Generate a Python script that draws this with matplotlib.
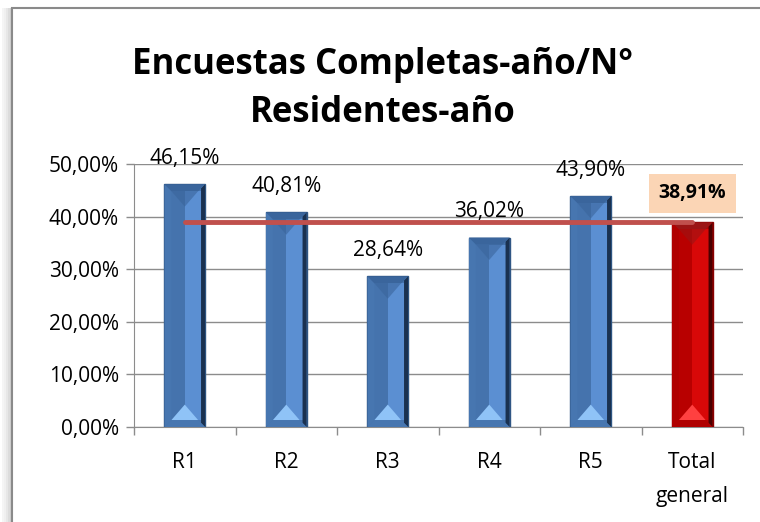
import numpy as np
import matplotlib
matplotlib.use("Agg")
import matplotlib.pyplot as plt
from matplotlib.patches import Rectangle, Polygon
from matplotlib.ticker import FuncFormatter, FixedLocator

# datos
categorias = ["R1", "R2", "R3", "R4", "R5", "Total\ngeneral"]
valores = [46.15, 40.81, 28.64, 36.02, 43.90, 38.91]
etiquetas = ["46,15%", "40,81%", "28,64%", "36,02%", "43,90%", "38,91%"]
promedio = 38.91
titulo = "Encuestas Completas-año/N°\nResidentes-año"

plt.rcParams['font.family'] = ['Open Sans', 'DejaVu Sans']

fig = plt.figure(figsize=(7.6, 5.22), dpi=100)
W, H = 760, 522

# marco del gráfico con sombra a la izquierda
for i, a in enumerate([0.05, 0.08, 0.12, 0.18, 0.25]):
    fig.patches.append(Rectangle((i / W * 2 + 2 / W, 0), 2 / W, 1 - 8 / H,
                                 transform=fig.transFigure, facecolor='#404040',
                                 alpha=a, edgecolor='none', zorder=-10))
fig.patches.append(Rectangle((12 / W, -0.05), 1.2, 1 - 8 / H + 0.05,
                             transform=fig.transFigure, facecolor='white',
                             edgecolor='#8a8a8a', lw=1.5, zorder=-9))

ax = fig.add_axes([134 / W, 1 - 427 / H, 609 / W, 263 / H])
ax.set_facecolor('none')

x = np.arange(len(categorias))
ancho = 0.4
ax.set_xlim(-0.5, len(categorias) - 0.5)
ax.set_ylim(0, 50)

ax.yaxis.set_major_locator(FixedLocator([0, 10, 20, 30, 40, 50]))
ax.yaxis.set_major_formatter(FuncFormatter(lambda v, p: f"{v:.2f}%".replace(".", ",")))
ax.grid(axis='y', color='#8c8c8c', lw=1.0)
ax.set_axisbelow(True)

# ticks del eje x entre categorías
ax.set_xticks(np.arange(-0.5, len(categorias), 1.0))
ax.set_xticklabels([])
ax.set_xticks(x, minor=True)
ax.set_xticklabels(categorias, minor=True, fontsize=15, linespacing=1.8)
ax.tick_params(axis='x', which='minor', length=0, pad=18)
ax.tick_params(axis='x', which='major', length=6, color='#8c8c8c', width=1)
ax.tick_params(axis='y', length=6, color='#8c8c8c', width=1, labelsize=15, pad=5)
for lab in ax.get_xticklabels(minor=True):
    lab.set_verticalalignment('top')

for s in ['top', 'right']:
    ax.spines[s].set_visible(False)
ax.spines['left'].set_color('#8c8c8c')
ax.spines['bottom'].set_color('#8c8c8c')

# barras con bisel
px_x = 1.0 / (609 / len(categorias))
px_y = 50.0 / 263
dx = 7 * px_x
dr = 4 * px_x
dy = 7 * px_y
azul = dict(izq='#4776b0', cara1='#4573ad', cara2='#5b8fd2', der='#1a3150',
            sup='#3a659c', inf='#8fc3f7', borde='#2f5684')
rojo = dict(izq='#b00000', cara1='#b80000', cara2='#d80808', der='#4a0000',
            sup='#9b1515', inf='#ff4040', borde='#8a0000')
for i, v in enumerate(valores):
    c = rojo if i == len(valores) - 1 else azul
    x0 = x[i] - ancho / 2
    x1 = x[i] + ancho / 2
    xm = x[i]
    ax.add_patch(Rectangle((x0, 0), ancho, v, facecolor=c['cara1'], edgecolor=c['borde'], lw=1, zorder=3))
    ax.add_patch(Rectangle((xm, dy), x1 - dx - xm, v - 2 * dy, facecolor=c['cara2'], edgecolor='none', zorder=3))
    ax.add_patch(Polygon([(x0, 0), (x0 + dx, dy), (x0 + dx, v - dy), (x0, v)],
                         facecolor=c['izq'], edgecolor='none', zorder=3))
    ax.add_patch(Polygon([(x1 - dx, dy), (x1 - dr, dy), (x1 - dr, v - dy), (x1 - dx, v - dy)],
                         facecolor=c['cara2'], edgecolor='none', zorder=3))
    ax.add_patch(Polygon([(x1, 0), (x1 - dr, dy * dr / dx), (x1 - dr, v - dy * dr / dx), (x1, v)],
                         facecolor=c['der'], edgecolor='none', zorder=3))
    ax.add_patch(Polygon([(x0, v), (x1, v), (x1 - dx, v - dy), (x0 + dx, v - dy)],
                         facecolor=c['sup'], edgecolor='none', zorder=3))
    ax.add_patch(Polygon([(x0 + dx, v - dy), (x1 - dx, v - dy), (xm, v - 3.2 * dy)],
                         facecolor=c['sup'], alpha=0.6, edgecolor='none', zorder=3))
    ax.add_patch(Polygon([(x0, 0), (x1, 0), (x1 - dx, dy), (x0 + dx, dy)],
                         facecolor=c['izq'], edgecolor='none', zorder=3))
    ax.add_patch(Polygon([(x0 + dx, dy), (x1 - dx, dy), (xm, 3.2 * dy)],
                         facecolor=c['inf'], edgecolor='none', zorder=3))

# línea del promedio
ax.plot([x[0], x[-1]], [promedio, promedio], color='#c0504d', lw=3.5,
        solid_capstyle='round', zorder=4)

# etiquetas de datos
for i, v in enumerate(valores):
    if i == len(valores) - 1:
        ax.annotate(etiquetas[i], (x[i], v), xytext=(0, 29), textcoords='offset pixels',
                    ha='center', va='center', fontsize=14, fontweight='bold', zorder=5,
                    bbox=dict(boxstyle='square,pad=0.5', facecolor='#fbd5b5', edgecolor='none'),
                    annotation_clip=False)
    else:
        ax.annotate(etiquetas[i], (x[i], v), xytext=(0, 26), textcoords='offset pixels',
                    ha='center', va='center', fontsize=15, zorder=5, annotation_clip=False)

fig.text(383 / W, 1 - 89 / H, titulo, ha='center', va='center', fontsize=25,
         fontweight='bold', linespacing=1.45)

fig.savefig('out.png', dpi=100)
